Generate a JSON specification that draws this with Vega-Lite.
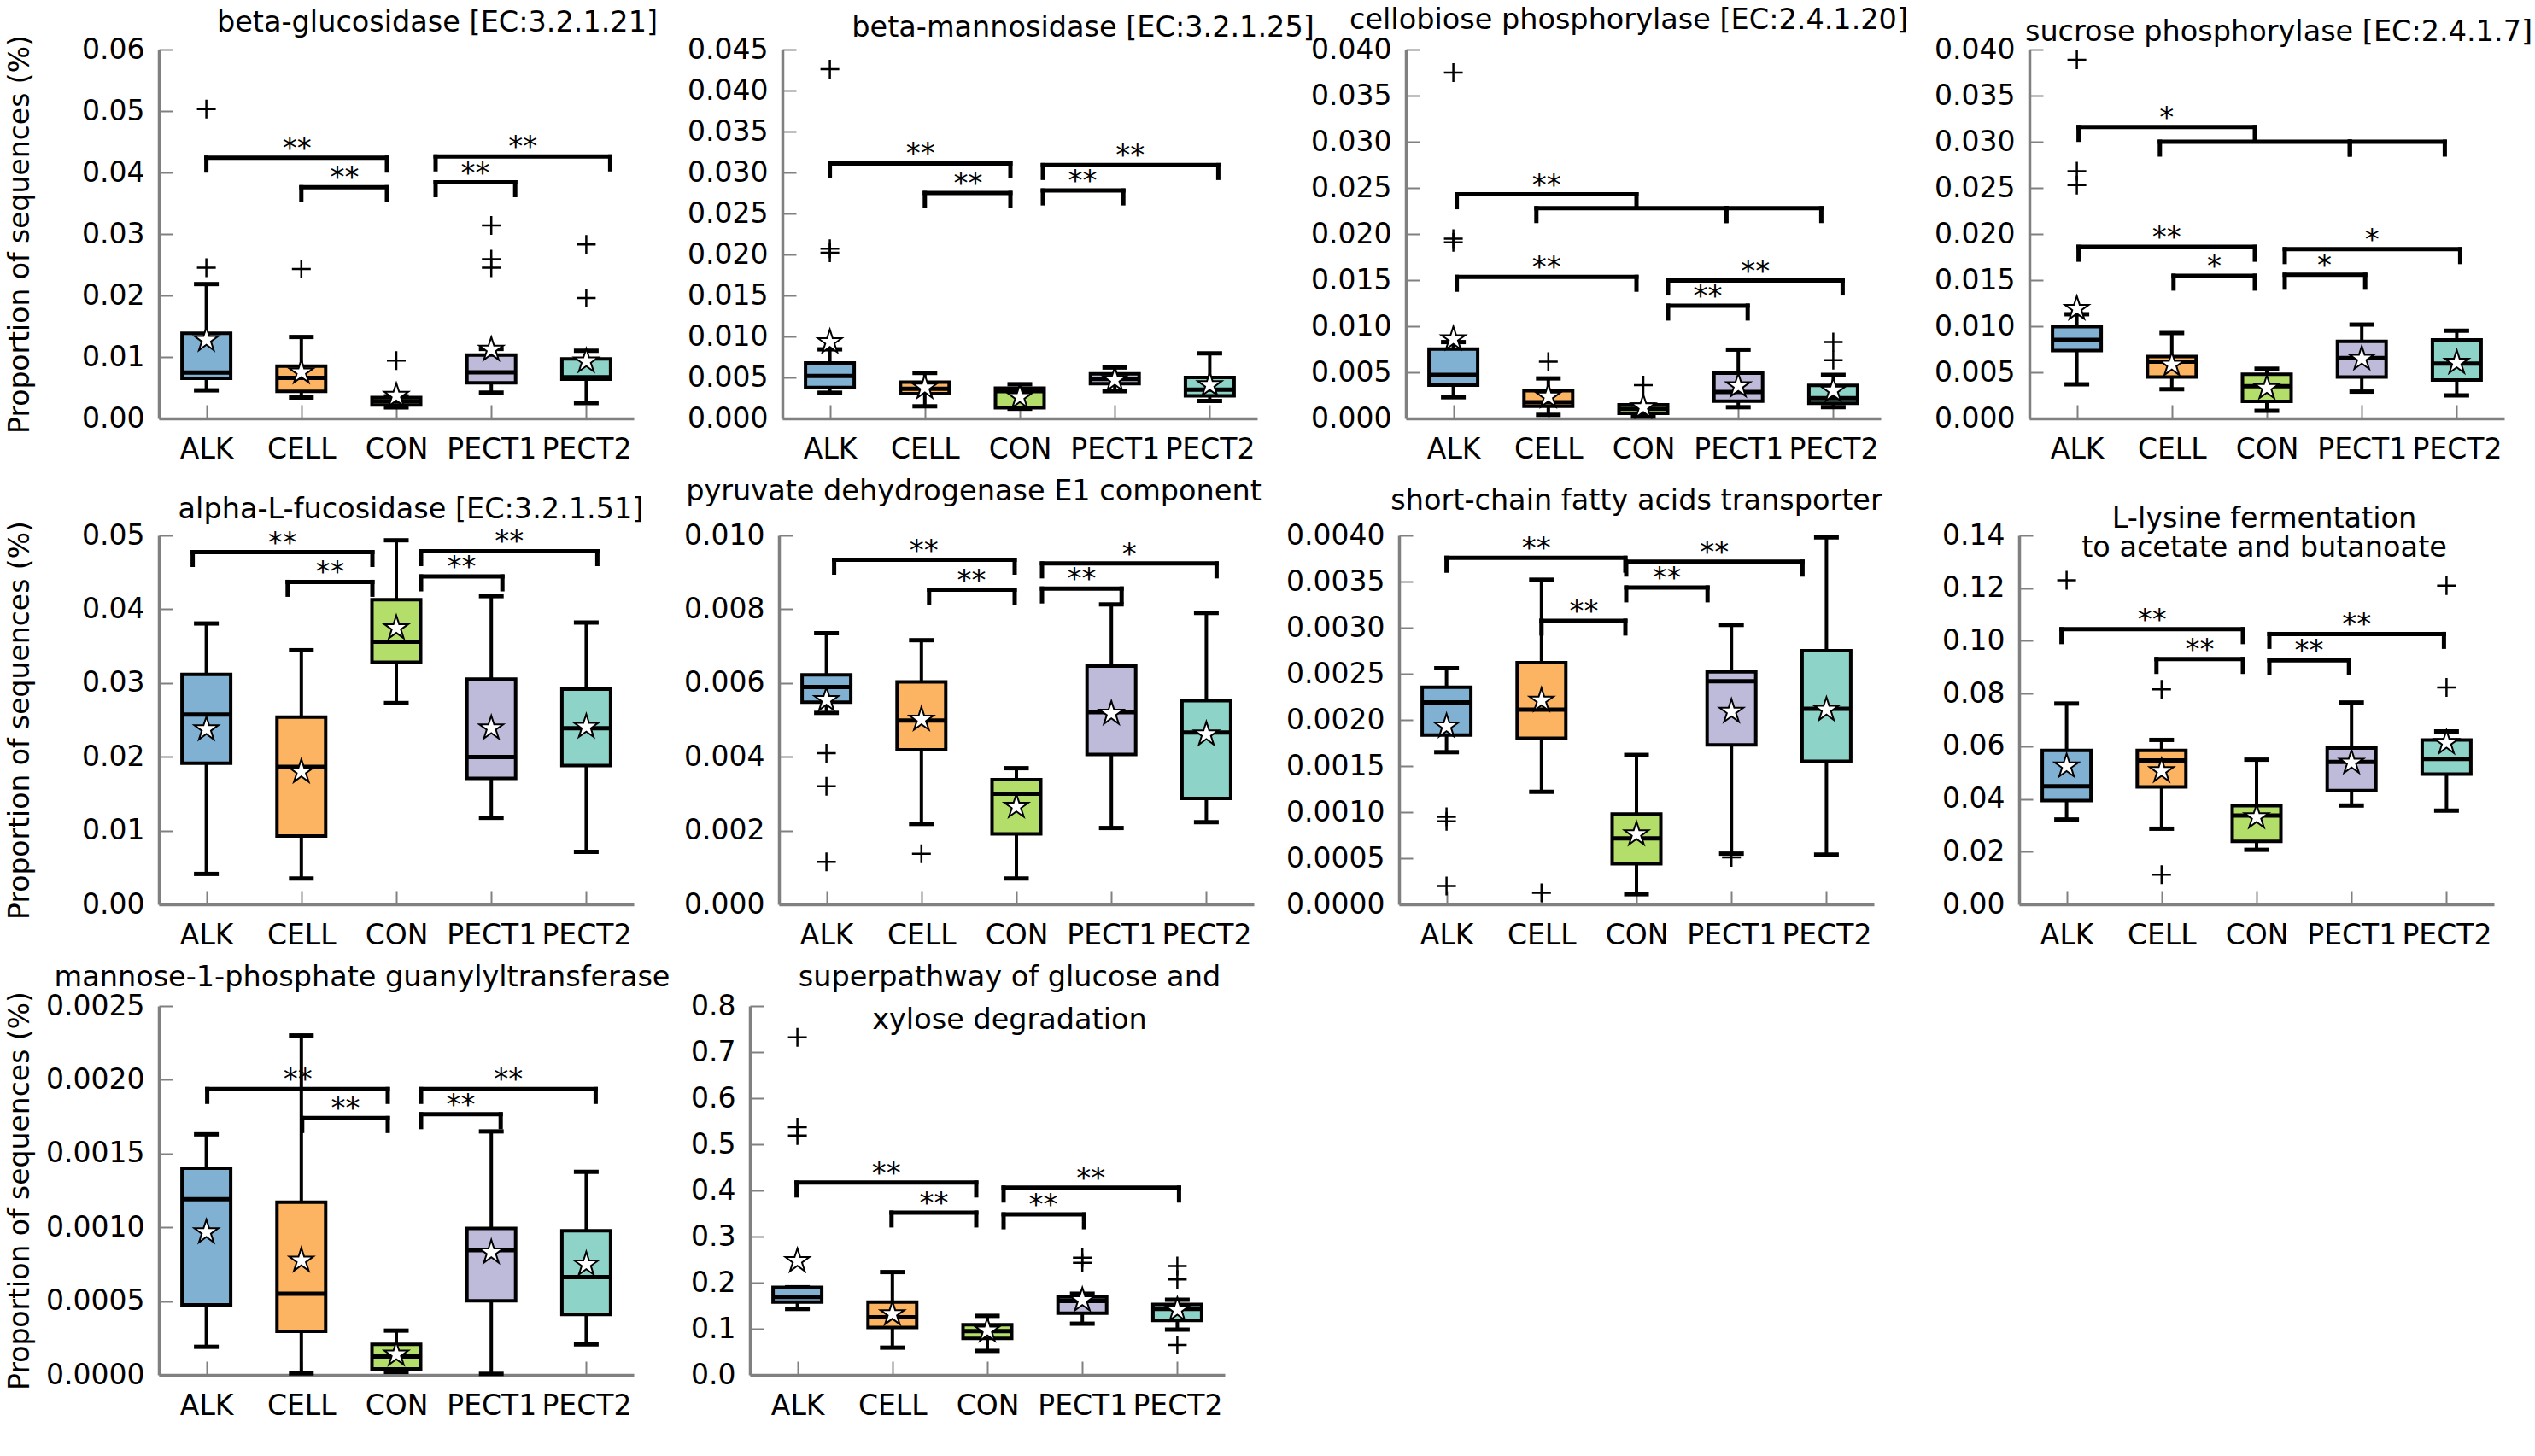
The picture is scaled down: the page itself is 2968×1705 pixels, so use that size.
{
"$schema":"https://vega.github.io/schema/vega-lite/v6.json",
"padding":{"left":6,"top":6,"right":5,"bottom":5},
"spacing":15,
"bounds":"full",
"data":{"values":[
{"p":1,"k":"b","g":"ALK","lo":0.00457,"q1":0.00653,"md":0.00746,"q3":0.01384,"hi":0.02185,"mn":0.01276},
{"p":1,"k":"b","g":"CELL","lo":0.0034,"q1":0.0044,"md":0.0066,"q3":0.0085,"hi":0.01325,"mn":0.0075},
{"p":1,"k":"b","g":"CON","lo":0.0018,"q1":0.0022,"md":0.0028,"q3":0.0034,"hi":0.0036,"mn":0.0037},
{"p":1,"k":"b","g":"PECT1","lo":0.0042,"q1":0.0058,"md":0.0075,"q3":0.0103,"hi":0.0113,"mn":0.0112},
{"p":1,"k":"b","g":"PECT2","lo":0.0025,"q1":0.0064,"md":0.0067,"q3":0.0097,"hi":0.011,"mn":0.0093},
{"p":1,"k":"o","g":"ALK","v":0.0503},{"p":1,"k":"o","g":"ALK","v":0.0245},{"p":1,"k":"o","g":"CELL","v":0.0243},{"p":1,"k":"o","g":"CON","v":0.0094},{"p":1,"k":"o","g":"PECT1","v":0.0314},{"p":1,"k":"o","g":"PECT1","v":0.0259},{"p":1,"k":"o","g":"PECT1","v":0.0245},{"p":1,"k":"o","g":"PECT2","v":0.0283},{"p":1,"k":"o","g":"PECT2","v":0.0196},
{"p":1,"k":"r","g":"ALK","g2":"CON","y":0.0424,"s":"**","m":"CELL"},
{"p":1,"k":"r","g":"CELL","g2":"CON","y":0.0376,"s":"**","m":"CELL-CON"},
{"p":1,"k":"r","g":"CON","g2":"PECT1","y":0.0384,"s":"**","m":"CON-PECT1"},
{"p":1,"k":"r","g":"CON","g2":"PECT2","y":0.0426,"s":"**","m":"PECT1"},
{"p":2,"k":"b","g":"ALK","lo":0.00314,"q1":0.00377,"md":0.00518,"q3":0.00677,"hi":0.00843,"mn":0.00932},
{"p":2,"k":"b","g":"CELL","lo":0.00148,"q1":0.00303,"md":0.00362,"q3":0.00444,"hi":0.00555,"mn":0.00377},
{"p":2,"k":"b","g":"CON","lo":0.00118,"q1":0.0013,"md":0.00333,"q3":0.0037,"hi":0.00418,"mn":0.00259},
{"p":2,"k":"b","g":"PECT1","lo":0.00333,"q1":0.00425,"md":0.00481,"q3":0.00544,"hi":0.00621,"mn":0.0047},
{"p":2,"k":"b","g":"PECT2","lo":0.00214,"q1":0.00277,"md":0.00351,"q3":0.005,"hi":0.00795,"mn":0.00407},
{"p":2,"k":"o","g":"ALK","v":0.0426},{"p":2,"k":"o","g":"ALK","v":0.0207},{"p":2,"k":"o","g":"ALK","v":0.0202},
{"p":2,"k":"r","g":"ALK","g2":"CON","y":0.0311,"s":"**","m":"CELL"},
{"p":2,"k":"r","g":"CELL","g2":"CON","y":0.0275,"s":"**","m":"CELL-CON"},
{"p":2,"k":"r","g":"CON","g2":"PECT1","y":0.0278,"s":"**","m":"CON-PECT1"},
{"p":2,"k":"r","g":"CON","g2":"PECT2","y":0.0309,"s":"**","m":"PECT1"},
{"p":3,"k":"b","g":"ALK","lo":0.0023,"q1":0.00362,"md":0.00473,"q3":0.00753,"hi":0.00828,"mn":0.00861},
{"p":3,"k":"b","g":"CELL","lo":0.00039,"q1":0.00131,"md":0.00177,"q3":0.00302,"hi":0.00434,"mn":0.00237},
{"p":3,"k":"b","g":"CON","lo":0.0002,"q1":0.00056,"md":0.00105,"q3":0.00148,"hi":0.0015,"mn":0.00122},
{"p":3,"k":"b","g":"PECT1","lo":0.00122,"q1":0.00187,"md":0.00286,"q3":0.0049,"hi":0.00746,"mn":0.00352},
{"p":3,"k":"b","g":"PECT2","lo":0.00122,"q1":0.00164,"md":0.0022,"q3":0.00358,"hi":0.00473,"mn":0.00302},
{"p":3,"k":"o","g":"ALK","v":0.0375},{"p":3,"k":"o","g":"ALK","v":0.0195},{"p":3,"k":"o","g":"ALK","v":0.0191},{"p":3,"k":"o","g":"CELL","v":0.00615},{"p":3,"k":"o","g":"CON","v":0.00362},{"p":3,"k":"o","g":"PECT2","v":0.00828},{"p":3,"k":"o","g":"PECT2","v":0.00631},
{"p":3,"k":"r","g":"ALK","g2":"CON","y":0.0243,"s":"**","m":"CELL"},
{"p":3,"k":"r","g":"CELL","g2":"PECT1","y":0.0228,"s":""},
{"p":3,"k":"r","g":"PECT1","g2":"PECT2","y":0.0228,"s":""},
{"p":3,"k":"r","g":"ALK","g2":"CON","y":0.01535,"s":"**","m":"CELL"},
{"p":3,"k":"r","g":"CON","g2":"PECT1","y":0.01223,"s":"**","m":"CON-PECT1"},
{"p":3,"k":"r","g":"CON","g2":"PECT2","y":0.01495,"s":"**","m":"PECT1"},
{"p":4,"k":"b","g":"ALK","lo":0.0037,"q1":0.00737,"md":0.00853,"q3":0.00995,"hi":0.0113,"mn":0.0119},
{"p":4,"k":"b","g":"CELL","lo":0.00317,"q1":0.0045,"md":0.00615,"q3":0.00671,"hi":0.00926,"mn":0.00582},
{"p":4,"k":"b","g":"CON","lo":0.00083,"q1":0.00185,"md":0.0035,"q3":0.00479,"hi":0.00539,"mn":0.00331},
{"p":4,"k":"b","g":"PECT1","lo":0.00291,"q1":0.0045,"md":0.00655,"q3":0.00836,"hi":0.01018,"mn":0.00648},
{"p":4,"k":"b","g":"PECT2","lo":0.00251,"q1":0.00417,"md":0.00595,"q3":0.00853,"hi":0.00952,"mn":0.00605},
{"p":4,"k":"o","g":"ALK","v":0.0389},{"p":4,"k":"o","g":"ALK","v":0.0268},{"p":4,"k":"o","g":"ALK","v":0.0253},
{"p":4,"k":"r","g":"ALK","g2":"CON","y":0.0316,"s":"*","m":"CELL"},
{"p":4,"k":"r","g":"CELL","g2":"PECT1","y":0.03,"s":""},
{"p":4,"k":"r","g":"PECT1","g2":"PECT2","y":0.03,"s":""},
{"p":4,"k":"r","g":"ALK","g2":"CON","y":0.0186,"s":"**","m":"CELL"},
{"p":4,"k":"r","g":"CELL","g2":"CON","y":0.01547,"s":"*","m":"CELL-CON"},
{"p":4,"k":"r","g":"CON","g2":"PECT1","y":0.01557,"s":"*","m":"CON-PECT1"},
{"p":4,"k":"r","g":"CON","g2":"PECT2","y":0.01835,"s":"*","m":"PECT1"},
{"p":5,"k":"b","g":"ALK","lo":0.00412,"q1":0.01914,"md":0.02572,"q3":0.03115,"hi":0.03807,"mn":0.02374},
{"p":5,"k":"b","g":"CELL","lo":0.0035,"q1":0.00926,"md":0.01864,"q3":0.02539,"hi":0.03444,"mn":0.01798},
{"p":5,"k":"b","g":"CON","lo":0.02728,"q1":0.0328,"md":0.0356,"q3":0.04128,"hi":0.04934,"mn":0.03745},
{"p":5,"k":"b","g":"PECT1","lo":0.01173,"q1":0.01708,"md":0.01996,"q3":0.03053,"hi":0.04177,"mn":0.02387},
{"p":5,"k":"b","g":"PECT2","lo":0.00712,"q1":0.01881,"md":0.02387,"q3":0.02918,"hi":0.03819,"mn":0.02407},
{"p":5,"k":"r","g":"ALK","g2":"CON","y":0.04774,"s":"**","m":"CELL"},
{"p":5,"k":"r","g":"CELL","g2":"CON","y":0.0437,"s":"**","m":"CELL-CON"},
{"p":5,"k":"r","g":"CON","g2":"PECT1","y":0.04444,"s":"**","m":"CON-PECT1"},
{"p":5,"k":"r","g":"CON","g2":"PECT2","y":0.04786,"s":"**","m":"PECT1"},
{"p":6,"k":"b","g":"ALK","lo":0.00519,"q1":0.00548,"md":0.00589,"q3":0.00622,"hi":0.00735,"mn":0.00554},
{"p":6,"k":"b","g":"CELL","lo":0.00218,"q1":0.00419,"md":0.00498,"q3":0.00603,"hi":0.00716,"mn":0.00501},
{"p":6,"k":"b","g":"CON","lo":0.0007,"q1":0.00191,"md":0.003,"q3":0.00338,"hi":0.00369,"mn":0.00265},
{"p":6,"k":"b","g":"PECT1","lo":0.00207,"q1":0.00406,"md":0.00521,"q3":0.00646,"hi":0.00813,"mn":0.00517},
{"p":6,"k":"b","g":"PECT2","lo":0.00223,"q1":0.00287,"md":0.00466,"q3":0.00552,"hi":0.0079,"mn":0.00461},
{"p":6,"k":"o","g":"ALK","v":0.0041},{"p":6,"k":"o","g":"ALK","v":0.0032},{"p":6,"k":"o","g":"ALK","v":0.00115},{"p":6,"k":"o","g":"CELL","v":0.00137},
{"p":6,"k":"r","g":"ALK","g2":"CON","y":0.00934,"s":"**","m":"CELL"},
{"p":6,"k":"r","g":"CELL","g2":"CON","y":0.00853,"s":"**","m":"CELL-CON"},
{"p":6,"k":"r","g":"CON","g2":"PECT1","y":0.00856,"s":"**","m":"CON-PECT1"},
{"p":6,"k":"r","g":"CON","g2":"PECT2","y":0.00924,"s":"*","m":"PECT1"},
{"p":7,"k":"b","g":"ALK","lo":0.00165,"q1":0.001836,"md":0.00219,"q3":0.002354,"hi":0.00256,"mn":0.00193},
{"p":7,"k":"b","g":"CELL","lo":0.00122,"q1":0.0018,"md":0.00211,"q3":0.00262,"hi":0.00352,"mn":0.00221},
{"p":7,"k":"b","g":"CON","lo":0.00011,"q1":0.00044,"md":0.000715,"q3":0.00098,"hi":0.00162,"mn":0.00076},
{"p":7,"k":"b","g":"PECT1","lo":0.00055,"q1":0.00173,"md":0.00242,"q3":0.00252,"hi":0.00303,"mn":0.00209},
{"p":7,"k":"b","g":"PECT2","lo":0.00054,"q1":0.00155,"md":0.00212,"q3":0.00275,"hi":0.00398,"mn":0.00211},
{"p":7,"k":"o","g":"ALK","v":0.00095},{"p":7,"k":"o","g":"ALK","v":0.0009},{"p":7,"k":"o","g":"ALK","v":0.0002},{"p":7,"k":"o","g":"CELL","v":0.000125},{"p":7,"k":"o","g":"PECT1","v":0.00051},
{"p":7,"k":"r","g":"ALK","g2":"CON","y":0.003757,"s":"**","m":"CELL"},
{"p":7,"k":"r","g":"CELL","g2":"CON","y":0.003075,"s":"**","m":"CELL-CON"},
{"p":7,"k":"r","g":"CON","g2":"PECT1","y":0.003436,"s":"**","m":"CON-PECT1"},
{"p":7,"k":"r","g":"CON","g2":"PECT2","y":0.003715,"s":"**","m":"PECT1"},
{"p":8,"k":"b","g":"ALK","lo":0.0322,"q1":0.0394,"md":0.0448,"q3":0.0584,"hi":0.0762,"mn":0.0524},
{"p":8,"k":"b","g":"CELL","lo":0.0287,"q1":0.0446,"md":0.0546,"q3":0.0584,"hi":0.0624,"mn":0.0506},
{"p":8,"k":"b","g":"CON","lo":0.0207,"q1":0.0239,"md":0.0337,"q3":0.0374,"hi":0.0549,"mn":0.0331},
{"p":8,"k":"b","g":"PECT1","lo":0.0375,"q1":0.0432,"md":0.054,"q3":0.0593,"hi":0.0766,"mn":0.0538},
{"p":8,"k":"b","g":"PECT2","lo":0.0356,"q1":0.0494,"md":0.0552,"q3":0.0624,"hi":0.0656,"mn":0.0613},
{"p":8,"k":"o","g":"ALK","v":0.123},{"p":8,"k":"o","g":"CELL","v":0.0816},{"p":8,"k":"o","g":"CELL","v":0.0113},{"p":8,"k":"o","g":"PECT2","v":0.121},{"p":8,"k":"o","g":"PECT2","v":0.0823},
{"p":8,"k":"r","g":"ALK","g2":"CON","y":0.1044,"s":"**","m":"CELL"},
{"p":8,"k":"r","g":"CELL","g2":"CON","y":0.0931,"s":"**","m":"CELL-CON"},
{"p":8,"k":"r","g":"CON","g2":"PECT1","y":0.0926,"s":"**","m":"CON-PECT1"},
{"p":8,"k":"r","g":"CON","g2":"PECT2","y":0.1026,"s":"**","m":"PECT1"},
{"p":9,"k":"b","g":"ALK","lo":0.00019,"q1":0.000474,"md":0.00119,"q3":0.0014,"hi":0.00163,"mn":0.000967},
{"p":9,"k":"b","g":"CELL","lo":0.00001,"q1":0.000295,"md":0.00055,"q3":0.00117,"hi":0.0023,"mn":0.000775},
{"p":9,"k":"b","g":"CON","lo":0.00002,"q1":0.00004,"md":0.000124,"q3":0.000207,"hi":0.0003,"mn":0.000138},
{"p":9,"k":"b","g":"PECT1","lo":0.000007,"q1":0.000502,"md":0.000845,"q3":0.000993,"hi":0.00165,"mn":0.00083},
{"p":9,"k":"b","g":"PECT2","lo":0.000207,"q1":0.00041,"md":0.000662,"q3":0.000976,"hi":0.001376,"mn":0.000749},
{"p":9,"k":"r","g":"ALK","g2":"CON","y":0.001937,"s":"**","m":"CELL"},
{"p":9,"k":"r","g":"CELL","g2":"CON","y":0.00174,"s":"**","m":"CELL-CON"},
{"p":9,"k":"r","g":"CON","g2":"PECT1","y":0.001766,"s":"**","m":"CON-PECT1"},
{"p":9,"k":"r","g":"CON","g2":"PECT2","y":0.001937,"s":"**","m":"PECT1"},
{"p":10,"k":"b","g":"ALK","lo":0.143,"q1":0.158,"md":0.169,"q3":0.19,"hi":0.19,"mn":0.247},
{"p":10,"k":"b","g":"CELL","lo":0.059,"q1":0.103,"md":0.125,"q3":0.158,"hi":0.223,"mn":0.132},
{"p":10,"k":"b","g":"CON","lo":0.052,"q1":0.079,"md":0.095,"q3":0.109,"hi":0.128,"mn":0.096},
{"p":10,"k":"b","g":"PECT1","lo":0.111,"q1":0.134,"md":0.16,"q3":0.169,"hi":0.176,"mn":0.162},
{"p":10,"k":"b","g":"PECT2","lo":0.098,"q1":0.118,"md":0.143,"q3":0.153,"hi":0.163,"mn":0.141},
{"p":10,"k":"o","g":"ALK","v":0.732},{"p":10,"k":"o","g":"ALK","v":0.537},{"p":10,"k":"o","g":"ALK","v":0.519},{"p":10,"k":"o","g":"PECT1","v":0.254},{"p":10,"k":"o","g":"PECT1","v":0.243},{"p":10,"k":"o","g":"PECT2","v":0.236},{"p":10,"k":"o","g":"PECT2","v":0.207},{"p":10,"k":"o","g":"PECT2","v":0.065},
{"p":10,"k":"r","g":"ALK","g2":"CON","y":0.417,"s":"**","m":"CELL"},
{"p":10,"k":"r","g":"CELL","g2":"CON","y":0.352,"s":"**","m":"CELL-CON"},
{"p":10,"k":"r","g":"CON","g2":"PECT1","y":0.348,"s":"**","m":"CON-PECT1"},
{"p":10,"k":"r","g":"CON","g2":"PECT2","y":0.406,"s":"**","m":"PECT1"}
]},
"vconcat":[
{"hconcat":[
{"width":556,"height":432,"title":{"text":"beta-glucosidase [EC:3.2.1.21]","dx":48},"transform":[{"filter":"datum.p==1"}],"encoding":{"x":{"field":"g","type":"nominal","scale":{"type":"point","padding":1,"domain":["ALK","ALK-CELL","CELL","CELL-CON","CON","CON-PECT1","PECT1","PECT1-PECT2","PECT2"]},"axis":{"values":["ALK","CELL","CON","PECT1","PECT2"],"title":null}}},"layer":[
{"transform":[{"filter":"datum.k=='b'"}],"layer":[
{"mark":"rule","encoding":{"y":{"field":"lo","type":"quantitative","scale":{"domain":[0,0.06],"nice":false},"axis":{"tickCount":6,"title":"Proportion of sequences (%)"}},"y2":{"field":"hi"}}},
{"mark":{"type":"bar","width":57},"encoding":{"y":{"field":"q1","type":"quantitative"},"y2":{"field":"q3"},"color":{"field":"g","type":"nominal","legend":null}}},
{"mark":{"type":"tick","size":57},"encoding":{"y":{"field":"md","type":"quantitative"}}},
{"mark":{"type":"tick","size":29},"encoding":{"y":{"field":"lo","type":"quantitative"}}},
{"mark":{"type":"tick","size":29},"encoding":{"y":{"field":"hi","type":"quantitative"}}},
{"mark":{"type":"point","shape":"M0,-1L0.2245,-0.309L0.951,-0.309L0.363,0.118L0.588,0.809L0,0.382L-0.588,0.809L-0.363,0.118L-0.951,-0.309L-0.2245,-0.309Z","size":870,"filled":true,"fill":"white","stroke":"black","strokeWidth":2},"encoding":{"y":{"field":"mn","type":"quantitative"}}}]},
{"transform":[{"filter":"datum.k=='o'"}],"mark":{"type":"point","shape":"M-1,0H1M0,-1V1","size":484,"filled":false,"color":"black","strokeWidth":2.5},"encoding":{"y":{"field":"v","type":"quantitative"}}},
{"transform":[{"filter":"datum.k=='r'&&datum.g2=='CON'"}],"layer":[
{"mark":{"type":"rule","strokeWidth":5,"strokeCap":"square","xOffset":0,"x2Offset":-11},"encoding":{"y":{"field":"y","type":"quantitative"},"x2":{"field":"g2"}}},
{"mark":{"type":"rule","strokeWidth":5,"strokeCap":"square","xOffset":0,"y2Offset":15},"encoding":{"y":{"field":"y","type":"quantitative"},"y2":{"field":"y"}}},
{"mark":{"type":"rule","strokeWidth":5,"strokeCap":"square","xOffset":-11,"y2Offset":15},"encoding":{"x":{"field":"g2","type":"nominal"},"y":{"field":"y","type":"quantitative"},"y2":{"field":"y"}}},
{"mark":{"type":"text","xOffset":-5},"encoding":{"x":{"field":"m","type":"nominal"},"y":{"field":"y","type":"quantitative"},"text":{"field":"s"}}}]},
{"transform":[{"filter":"datum.k=='r'&&datum.g=='CON'"}],"layer":[
{"mark":{"type":"rule","strokeWidth":5,"strokeCap":"square","xOffset":46,"x2Offset":28},"encoding":{"y":{"field":"y","type":"quantitative"},"x2":{"field":"g2"}}},
{"mark":{"type":"rule","strokeWidth":5,"strokeCap":"square","xOffset":46,"y2Offset":15},"encoding":{"y":{"field":"y","type":"quantitative"},"y2":{"field":"y"}}},
{"mark":{"type":"rule","strokeWidth":5,"strokeCap":"square","xOffset":28,"y2Offset":15},"encoding":{"x":{"field":"g2","type":"nominal"},"y":{"field":"y","type":"quantitative"},"y2":{"field":"y"}}},
{"mark":{"type":"text","xOffset":37},"encoding":{"x":{"field":"m","type":"nominal"},"y":{"field":"y","type":"quantitative"},"text":{"field":"s"}}}]}
]},
{"width":556,"height":432,"title":{"text":"beta-mannosidase [EC:3.2.1.25]","dx":74,"offset":-8},"transform":[{"filter":"datum.p==2"}],"encoding":{"x":{"field":"g","type":"nominal","scale":{"type":"point","padding":1,"domain":["ALK","ALK-CELL","CELL","CELL-CON","CON","CON-PECT1","PECT1","PECT1-PECT2","PECT2"]},"axis":{"values":["ALK","CELL","CON","PECT1","PECT2"],"title":null}}},"layer":[
{"transform":[{"filter":"datum.k=='b'"}],"layer":[
{"mark":"rule","encoding":{"y":{"field":"lo","type":"quantitative","scale":{"domain":[0,0.045],"nice":false},"axis":{"tickCount":9,"title":null}},"y2":{"field":"hi"}}},
{"mark":{"type":"bar","width":57},"encoding":{"y":{"field":"q1","type":"quantitative"},"y2":{"field":"q3"},"color":{"field":"g","type":"nominal","legend":null}}},
{"mark":{"type":"tick","size":57},"encoding":{"y":{"field":"md","type":"quantitative"}}},
{"mark":{"type":"tick","size":29},"encoding":{"y":{"field":"lo","type":"quantitative"}}},
{"mark":{"type":"tick","size":29},"encoding":{"y":{"field":"hi","type":"quantitative"}}},
{"mark":{"type":"point","shape":"M0,-1L0.2245,-0.309L0.951,-0.309L0.363,0.118L0.588,0.809L0,0.382L-0.588,0.809L-0.363,0.118L-0.951,-0.309L-0.2245,-0.309Z","size":870,"filled":true,"fill":"white","stroke":"black","strokeWidth":2},"encoding":{"y":{"field":"mn","type":"quantitative"}}}]},
{"transform":[{"filter":"datum.k=='o'"}],"mark":{"type":"point","shape":"M-1,0H1M0,-1V1","size":484,"filled":false,"color":"black","strokeWidth":2.5},"encoding":{"y":{"field":"v","type":"quantitative"}}},
{"transform":[{"filter":"datum.k=='r'&&datum.g2=='CON'"}],"layer":[
{"mark":{"type":"rule","strokeWidth":5,"strokeCap":"square","xOffset":0,"x2Offset":-11},"encoding":{"y":{"field":"y","type":"quantitative"},"x2":{"field":"g2"}}},
{"mark":{"type":"rule","strokeWidth":5,"strokeCap":"square","xOffset":0,"y2Offset":15},"encoding":{"y":{"field":"y","type":"quantitative"},"y2":{"field":"y"}}},
{"mark":{"type":"rule","strokeWidth":5,"strokeCap":"square","xOffset":-11,"y2Offset":15},"encoding":{"x":{"field":"g2","type":"nominal"},"y":{"field":"y","type":"quantitative"},"y2":{"field":"y"}}},
{"mark":{"type":"text","xOffset":-5},"encoding":{"x":{"field":"m","type":"nominal"},"y":{"field":"y","type":"quantitative"},"text":{"field":"s"}}}]},
{"transform":[{"filter":"datum.k=='r'&&datum.g=='CON'"}],"layer":[
{"mark":{"type":"rule","strokeWidth":5,"strokeCap":"square","xOffset":27,"x2Offset":10},"encoding":{"y":{"field":"y","type":"quantitative"},"x2":{"field":"g2"}}},
{"mark":{"type":"rule","strokeWidth":5,"strokeCap":"square","xOffset":27,"y2Offset":15},"encoding":{"y":{"field":"y","type":"quantitative"},"y2":{"field":"y"}}},
{"mark":{"type":"rule","strokeWidth":5,"strokeCap":"square","xOffset":10,"y2Offset":15},"encoding":{"x":{"field":"g2","type":"nominal"},"y":{"field":"y","type":"quantitative"},"y2":{"field":"y"}}},
{"mark":{"type":"text","xOffset":18},"encoding":{"x":{"field":"m","type":"nominal"},"y":{"field":"y","type":"quantitative"},"text":{"field":"s"}}}]}
]},
{"width":556,"height":432,"title":{"text":"cellobiose phosphorylase [EC:2.4.1.20]","dx":-17,"offset":1},"transform":[{"filter":"datum.p==3"}],"encoding":{"x":{"field":"g","type":"nominal","scale":{"type":"point","padding":1,"domain":["ALK","ALK-CELL","CELL","CELL-CON","CON","CON-PECT1","PECT1","PECT1-PECT2","PECT2"]},"axis":{"values":["ALK","CELL","CON","PECT1","PECT2"],"title":null}}},"layer":[
{"transform":[{"filter":"datum.k=='b'"}],"layer":[
{"mark":"rule","encoding":{"y":{"field":"lo","type":"quantitative","scale":{"domain":[0,0.04],"nice":false},"axis":{"tickCount":8,"title":null}},"y2":{"field":"hi"}}},
{"mark":{"type":"bar","width":57},"encoding":{"y":{"field":"q1","type":"quantitative"},"y2":{"field":"q3"},"color":{"field":"g","type":"nominal","legend":null}}},
{"mark":{"type":"tick","size":57},"encoding":{"y":{"field":"md","type":"quantitative"}}},
{"mark":{"type":"tick","size":29},"encoding":{"y":{"field":"lo","type":"quantitative"}}},
{"mark":{"type":"tick","size":29},"encoding":{"y":{"field":"hi","type":"quantitative"}}},
{"mark":{"type":"point","shape":"M0,-1L0.2245,-0.309L0.951,-0.309L0.363,0.118L0.588,0.809L0,0.382L-0.588,0.809L-0.363,0.118L-0.951,-0.309L-0.2245,-0.309Z","size":870,"filled":true,"fill":"white","stroke":"black","strokeWidth":2},"encoding":{"y":{"field":"mn","type":"quantitative"}}}]},
{"transform":[{"filter":"datum.k=='o'"}],"mark":{"type":"point","shape":"M-1,0H1M0,-1V1","size":484,"filled":false,"color":"black","strokeWidth":2.5},"encoding":{"y":{"field":"v","type":"quantitative"}}},
{"transform":[{"filter":"datum.k=='r'&&datum.g2=='CON'"}],"layer":[
{"mark":{"type":"rule","strokeWidth":5,"strokeCap":"square","xOffset":4,"x2Offset":-8},"encoding":{"y":{"field":"y","type":"quantitative"},"x2":{"field":"g2"}}},
{"mark":{"type":"rule","strokeWidth":5,"strokeCap":"square","xOffset":4,"y2Offset":15},"encoding":{"y":{"field":"y","type":"quantitative"},"y2":{"field":"y"}}},
{"mark":{"type":"rule","strokeWidth":5,"strokeCap":"square","xOffset":-8,"y2Offset":15},"encoding":{"x":{"field":"g2","type":"nominal"},"y":{"field":"y","type":"quantitative"},"y2":{"field":"y"}}},
{"mark":{"type":"text","xOffset":-2},"encoding":{"x":{"field":"m","type":"nominal"},"y":{"field":"y","type":"quantitative"},"text":{"field":"s"}}}]},
{"transform":[{"filter":"datum.k=='r'&&datum.g=='CON'"}],"layer":[
{"mark":{"type":"rule","strokeWidth":5,"strokeCap":"square","xOffset":29,"x2Offset":11},"encoding":{"y":{"field":"y","type":"quantitative"},"x2":{"field":"g2"}}},
{"mark":{"type":"rule","strokeWidth":5,"strokeCap":"square","xOffset":29,"y2Offset":15},"encoding":{"y":{"field":"y","type":"quantitative"},"y2":{"field":"y"}}},
{"mark":{"type":"rule","strokeWidth":5,"strokeCap":"square","xOffset":11,"y2Offset":15},"encoding":{"x":{"field":"g2","type":"nominal"},"y":{"field":"y","type":"quantitative"},"y2":{"field":"y"}}},
{"mark":{"type":"text","xOffset":20},"encoding":{"x":{"field":"m","type":"nominal"},"y":{"field":"y","type":"quantitative"},"text":{"field":"s"}}}]},
{"transform":[{"filter":"datum.k=='r'&&datum.g!='CON'&&datum.g2!='CON'"}],"layer":[
{"mark":{"type":"rule","strokeWidth":5,"strokeCap":"square","xOffset":-14,"x2Offset":-14},"encoding":{"y":{"field":"y","type":"quantitative"},"x2":{"field":"g2"}}},
{"mark":{"type":"rule","strokeWidth":5,"strokeCap":"square","xOffset":-14,"y2Offset":15},"encoding":{"y":{"field":"y","type":"quantitative"},"y2":{"field":"y"}}},
{"mark":{"type":"rule","strokeWidth":5,"strokeCap":"square","xOffset":-14,"y2Offset":15},"encoding":{"x":{"field":"g2","type":"nominal"},"y":{"field":"y","type":"quantitative"},"y2":{"field":"y"}}}]}
]},
{"width":556,"height":432,"title":{"text":"sucrose phosphorylase [EC:2.4.1.7]","dx":14,"offset":-13},"transform":[{"filter":"datum.p==4"}],"encoding":{"x":{"field":"g","type":"nominal","scale":{"type":"point","padding":1,"domain":["ALK","ALK-CELL","CELL","CELL-CON","CON","CON-PECT1","PECT1","PECT1-PECT2","PECT2"]},"axis":{"values":["ALK","CELL","CON","PECT1","PECT2"],"title":null}}},"layer":[
{"transform":[{"filter":"datum.k=='b'"}],"layer":[
{"mark":"rule","encoding":{"y":{"field":"lo","type":"quantitative","scale":{"domain":[0,0.04],"nice":false},"axis":{"tickCount":8,"title":null}},"y2":{"field":"hi"}}},
{"mark":{"type":"bar","width":57},"encoding":{"y":{"field":"q1","type":"quantitative"},"y2":{"field":"q3"},"color":{"field":"g","type":"nominal","legend":null}}},
{"mark":{"type":"tick","size":57},"encoding":{"y":{"field":"md","type":"quantitative"}}},
{"mark":{"type":"tick","size":29},"encoding":{"y":{"field":"lo","type":"quantitative"}}},
{"mark":{"type":"tick","size":29},"encoding":{"y":{"field":"hi","type":"quantitative"}}},
{"mark":{"type":"point","shape":"M0,-1L0.2245,-0.309L0.951,-0.309L0.363,0.118L0.588,0.809L0,0.382L-0.588,0.809L-0.363,0.118L-0.951,-0.309L-0.2245,-0.309Z","size":870,"filled":true,"fill":"white","stroke":"black","strokeWidth":2},"encoding":{"y":{"field":"mn","type":"quantitative"}}}]},
{"transform":[{"filter":"datum.k=='o'"}],"mark":{"type":"point","shape":"M-1,0H1M0,-1V1","size":484,"filled":false,"color":"black","strokeWidth":2.5},"encoding":{"y":{"field":"v","type":"quantitative"}}},
{"transform":[{"filter":"datum.k=='r'&&datum.g2=='CON'"}],"layer":[
{"mark":{"type":"rule","strokeWidth":5,"strokeCap":"square","xOffset":2,"x2Offset":-14},"encoding":{"y":{"field":"y","type":"quantitative"},"x2":{"field":"g2"}}},
{"mark":{"type":"rule","strokeWidth":5,"strokeCap":"square","xOffset":2,"y2Offset":15},"encoding":{"y":{"field":"y","type":"quantitative"},"y2":{"field":"y"}}},
{"mark":{"type":"rule","strokeWidth":5,"strokeCap":"square","xOffset":-14,"y2Offset":15},"encoding":{"x":{"field":"g2","type":"nominal"},"y":{"field":"y","type":"quantitative"},"y2":{"field":"y"}}},
{"mark":{"type":"text","xOffset":-6},"encoding":{"x":{"field":"m","type":"nominal"},"y":{"field":"y","type":"quantitative"},"text":{"field":"s"}}}]},
{"transform":[{"filter":"datum.k=='r'&&datum.g=='CON'"}],"layer":[
{"mark":{"type":"rule","strokeWidth":5,"strokeCap":"square","xOffset":21,"x2Offset":4},"encoding":{"y":{"field":"y","type":"quantitative"},"x2":{"field":"g2"}}},
{"mark":{"type":"rule","strokeWidth":5,"strokeCap":"square","xOffset":21,"y2Offset":15},"encoding":{"y":{"field":"y","type":"quantitative"},"y2":{"field":"y"}}},
{"mark":{"type":"rule","strokeWidth":5,"strokeCap":"square","xOffset":4,"y2Offset":15},"encoding":{"x":{"field":"g2","type":"nominal"},"y":{"field":"y","type":"quantitative"},"y2":{"field":"y"}}},
{"mark":{"type":"text","xOffset":12},"encoding":{"x":{"field":"m","type":"nominal"},"y":{"field":"y","type":"quantitative"},"text":{"field":"s"}}}]},
{"transform":[{"filter":"datum.k=='r'&&datum.g!='CON'&&datum.g2!='CON'"}],"layer":[
{"mark":{"type":"rule","strokeWidth":5,"strokeCap":"square","xOffset":-14,"x2Offset":-14},"encoding":{"y":{"field":"y","type":"quantitative"},"x2":{"field":"g2"}}},
{"mark":{"type":"rule","strokeWidth":5,"strokeCap":"square","xOffset":-14,"y2Offset":15},"encoding":{"y":{"field":"y","type":"quantitative"},"y2":{"field":"y"}}},
{"mark":{"type":"rule","strokeWidth":5,"strokeCap":"square","xOffset":-14,"y2Offset":15},"encoding":{"x":{"field":"g2","type":"nominal"},"y":{"field":"y","type":"quantitative"},"y2":{"field":"y"}}}]}
]}
],"spacing":174,"bounds":"flush"},
{"hconcat":[
{"width":556,"height":432,"title":{"text":"alpha-L-fucosidase [EC:3.2.1.51]","dx":17,"offset":-5},"transform":[{"filter":"datum.p==5"}],"encoding":{"x":{"field":"g","type":"nominal","scale":{"type":"point","padding":1,"domain":["ALK","ALK-CELL","CELL","CELL-CON","CON","CON-PECT1","PECT1","PECT1-PECT2","PECT2"]},"axis":{"values":["ALK","CELL","CON","PECT1","PECT2"],"title":null}}},"layer":[
{"transform":[{"filter":"datum.k=='b'"}],"layer":[
{"mark":"rule","encoding":{"y":{"field":"lo","type":"quantitative","scale":{"domain":[0,0.05],"nice":false},"axis":{"tickCount":5,"title":"Proportion of sequences (%)"}},"y2":{"field":"hi"}}},
{"mark":{"type":"bar","width":57},"encoding":{"y":{"field":"q1","type":"quantitative"},"y2":{"field":"q3"},"color":{"field":"g","type":"nominal","legend":null}}},
{"mark":{"type":"tick","size":57},"encoding":{"y":{"field":"md","type":"quantitative"}}},
{"mark":{"type":"tick","size":29},"encoding":{"y":{"field":"lo","type":"quantitative"}}},
{"mark":{"type":"tick","size":29},"encoding":{"y":{"field":"hi","type":"quantitative"}}},
{"mark":{"type":"point","shape":"M0,-1L0.2245,-0.309L0.951,-0.309L0.363,0.118L0.588,0.809L0,0.382L-0.588,0.809L-0.363,0.118L-0.951,-0.309L-0.2245,-0.309Z","size":870,"filled":true,"fill":"white","stroke":"black","strokeWidth":2},"encoding":{"y":{"field":"mn","type":"quantitative"}}}]},
{"transform":[{"filter":"datum.k=='r'&&datum.g2=='CON'"}],"layer":[
{"mark":{"type":"rule","strokeWidth":5,"strokeCap":"square","xOffset":-16,"x2Offset":-28},"encoding":{"y":{"field":"y","type":"quantitative"},"x2":{"field":"g2"}}},
{"mark":{"type":"rule","strokeWidth":5,"strokeCap":"square","xOffset":-16,"y2Offset":15},"encoding":{"y":{"field":"y","type":"quantitative"},"y2":{"field":"y"}}},
{"mark":{"type":"rule","strokeWidth":5,"strokeCap":"square","xOffset":-28,"y2Offset":15},"encoding":{"x":{"field":"g2","type":"nominal"},"y":{"field":"y","type":"quantitative"},"y2":{"field":"y"}}},
{"mark":{"type":"text","xOffset":-22},"encoding":{"x":{"field":"m","type":"nominal"},"y":{"field":"y","type":"quantitative"},"text":{"field":"s"}}}]},
{"transform":[{"filter":"datum.k=='r'&&datum.g=='CON'"}],"layer":[
{"mark":{"type":"rule","strokeWidth":5,"strokeCap":"square","xOffset":29,"x2Offset":13},"encoding":{"y":{"field":"y","type":"quantitative"},"x2":{"field":"g2"}}},
{"mark":{"type":"rule","strokeWidth":5,"strokeCap":"square","xOffset":29,"y2Offset":15},"encoding":{"y":{"field":"y","type":"quantitative"},"y2":{"field":"y"}}},
{"mark":{"type":"rule","strokeWidth":5,"strokeCap":"square","xOffset":13,"y2Offset":15},"encoding":{"x":{"field":"g2","type":"nominal"},"y":{"field":"y","type":"quantitative"},"y2":{"field":"y"}}},
{"mark":{"type":"text","xOffset":21},"encoding":{"x":{"field":"m","type":"nominal"},"y":{"field":"y","type":"quantitative"},"text":{"field":"s"}}}]}
]},
{"width":556,"height":432,"title":{"text":"pyruvate dehydrogenase E1 component","dx":-50,"offset":18},"transform":[{"filter":"datum.p==6"}],"encoding":{"x":{"field":"g","type":"nominal","scale":{"type":"point","padding":1,"domain":["ALK","ALK-CELL","CELL","CELL-CON","CON","CON-PECT1","PECT1","PECT1-PECT2","PECT2"]},"axis":{"values":["ALK","CELL","CON","PECT1","PECT2"],"title":null}}},"layer":[
{"transform":[{"filter":"datum.k=='b'"}],"layer":[
{"mark":"rule","encoding":{"y":{"field":"lo","type":"quantitative","scale":{"domain":[0,0.01],"nice":false},"axis":{"tickCount":5,"title":null}},"y2":{"field":"hi"}}},
{"mark":{"type":"bar","width":57},"encoding":{"y":{"field":"q1","type":"quantitative"},"y2":{"field":"q3"},"color":{"field":"g","type":"nominal","legend":null}}},
{"mark":{"type":"tick","size":57},"encoding":{"y":{"field":"md","type":"quantitative"}}},
{"mark":{"type":"tick","size":29},"encoding":{"y":{"field":"lo","type":"quantitative"}}},
{"mark":{"type":"tick","size":29},"encoding":{"y":{"field":"hi","type":"quantitative"}}},
{"mark":{"type":"point","shape":"M0,-1L0.2245,-0.309L0.951,-0.309L0.363,0.118L0.588,0.809L0,0.382L-0.588,0.809L-0.363,0.118L-0.951,-0.309L-0.2245,-0.309Z","size":870,"filled":true,"fill":"white","stroke":"black","strokeWidth":2},"encoding":{"y":{"field":"mn","type":"quantitative"}}}]},
{"transform":[{"filter":"datum.k=='o'"}],"mark":{"type":"point","shape":"M-1,0H1M0,-1V1","size":484,"filled":false,"color":"black","strokeWidth":2.5},"encoding":{"y":{"field":"v","type":"quantitative"}}},
{"transform":[{"filter":"datum.k=='r'&&datum.g2=='CON'"}],"layer":[
{"mark":{"type":"rule","strokeWidth":5,"strokeCap":"square","xOffset":9,"x2Offset":-2},"encoding":{"y":{"field":"y","type":"quantitative"},"x2":{"field":"g2"}}},
{"mark":{"type":"rule","strokeWidth":5,"strokeCap":"square","xOffset":9,"y2Offset":15},"encoding":{"y":{"field":"y","type":"quantitative"},"y2":{"field":"y"}}},
{"mark":{"type":"rule","strokeWidth":5,"strokeCap":"square","xOffset":-2,"y2Offset":15},"encoding":{"x":{"field":"g2","type":"nominal"},"y":{"field":"y","type":"quantitative"},"y2":{"field":"y"}}},
{"mark":{"type":"text","xOffset":3},"encoding":{"x":{"field":"m","type":"nominal"},"y":{"field":"y","type":"quantitative"},"text":{"field":"s"}}}]},
{"transform":[{"filter":"datum.k=='r'&&datum.g=='CON'"}],"layer":[
{"mark":{"type":"rule","strokeWidth":5,"strokeCap":"square","xOffset":30,"x2Offset":12},"encoding":{"y":{"field":"y","type":"quantitative"},"x2":{"field":"g2"}}},
{"mark":{"type":"rule","strokeWidth":5,"strokeCap":"square","xOffset":30,"y2Offset":15},"encoding":{"y":{"field":"y","type":"quantitative"},"y2":{"field":"y"}}},
{"mark":{"type":"rule","strokeWidth":5,"strokeCap":"square","xOffset":12,"y2Offset":15},"encoding":{"x":{"field":"g2","type":"nominal"},"y":{"field":"y","type":"quantitative"},"y2":{"field":"y"}}},
{"mark":{"type":"text","xOffset":21},"encoding":{"x":{"field":"m","type":"nominal"},"y":{"field":"y","type":"quantitative"},"text":{"field":"s"}}}]}
]},
{"width":556,"height":432,"title":{"text":"short-chain fatty acids transporter","dx":0,"offset":7},"transform":[{"filter":"datum.p==7"}],"encoding":{"x":{"field":"g","type":"nominal","scale":{"type":"point","padding":1,"domain":["ALK","ALK-CELL","CELL","CELL-CON","CON","CON-PECT1","PECT1","PECT1-PECT2","PECT2"]},"axis":{"values":["ALK","CELL","CON","PECT1","PECT2"],"title":null}}},"layer":[
{"transform":[{"filter":"datum.k=='b'"}],"layer":[
{"mark":"rule","encoding":{"y":{"field":"lo","type":"quantitative","scale":{"domain":[0,0.004],"nice":false},"axis":{"tickCount":8,"title":null}},"y2":{"field":"hi"}}},
{"mark":{"type":"bar","width":57},"encoding":{"y":{"field":"q1","type":"quantitative"},"y2":{"field":"q3"},"color":{"field":"g","type":"nominal","legend":null}}},
{"mark":{"type":"tick","size":57},"encoding":{"y":{"field":"md","type":"quantitative"}}},
{"mark":{"type":"tick","size":29},"encoding":{"y":{"field":"lo","type":"quantitative"}}},
{"mark":{"type":"tick","size":29},"encoding":{"y":{"field":"hi","type":"quantitative"}}},
{"mark":{"type":"point","shape":"M0,-1L0.2245,-0.309L0.951,-0.309L0.363,0.118L0.588,0.809L0,0.382L-0.588,0.809L-0.363,0.118L-0.951,-0.309L-0.2245,-0.309Z","size":870,"filled":true,"fill":"white","stroke":"black","strokeWidth":2},"encoding":{"y":{"field":"mn","type":"quantitative"}}}]},
{"transform":[{"filter":"datum.k=='o'"}],"mark":{"type":"point","shape":"M-1,0H1M0,-1V1","size":484,"filled":false,"color":"black","strokeWidth":2.5},"encoding":{"y":{"field":"v","type":"quantitative"}}},
{"transform":[{"filter":"datum.k=='r'&&datum.g2=='CON'"}],"layer":[
{"mark":{"type":"rule","strokeWidth":5,"strokeCap":"square","xOffset":0,"x2Offset":-13},"encoding":{"y":{"field":"y","type":"quantitative"},"x2":{"field":"g2"}}},
{"mark":{"type":"rule","strokeWidth":5,"strokeCap":"square","xOffset":0,"y2Offset":15},"encoding":{"y":{"field":"y","type":"quantitative"},"y2":{"field":"y"}}},
{"mark":{"type":"rule","strokeWidth":5,"strokeCap":"square","xOffset":-13,"y2Offset":15},"encoding":{"x":{"field":"g2","type":"nominal"},"y":{"field":"y","type":"quantitative"},"y2":{"field":"y"}}},
{"mark":{"type":"text","xOffset":-6},"encoding":{"x":{"field":"m","type":"nominal"},"y":{"field":"y","type":"quantitative"},"text":{"field":"s"}}}]},
{"transform":[{"filter":"datum.k=='r'&&datum.g=='CON'"}],"layer":[
{"mark":{"type":"rule","strokeWidth":5,"strokeCap":"square","xOffset":-12,"x2Offset":-28},"encoding":{"y":{"field":"y","type":"quantitative"},"x2":{"field":"g2"}}},
{"mark":{"type":"rule","strokeWidth":5,"strokeCap":"square","xOffset":-12,"y2Offset":15},"encoding":{"y":{"field":"y","type":"quantitative"},"y2":{"field":"y"}}},
{"mark":{"type":"rule","strokeWidth":5,"strokeCap":"square","xOffset":-28,"y2Offset":15},"encoding":{"x":{"field":"g2","type":"nominal"},"y":{"field":"y","type":"quantitative"},"y2":{"field":"y"}}},
{"mark":{"type":"text","xOffset":-20},"encoding":{"x":{"field":"m","type":"nominal"},"y":{"field":"y","type":"quantitative"},"text":{"field":"s"}}}]}
]},
{"width":556,"height":432,"title":{"text":["L-lysine fermentation","to acetate and butanoate"],"dx":9,"dy":44,"lineHeight":34},"transform":[{"filter":"datum.p==8"}],"encoding":{"x":{"field":"g","type":"nominal","scale":{"type":"point","padding":1,"domain":["ALK","ALK-CELL","CELL","CELL-CON","CON","CON-PECT1","PECT1","PECT1-PECT2","PECT2"]},"axis":{"values":["ALK","CELL","CON","PECT1","PECT2"],"title":null}}},"layer":[
{"transform":[{"filter":"datum.k=='b'"}],"layer":[
{"mark":"rule","encoding":{"y":{"field":"lo","type":"quantitative","scale":{"domain":[0,0.14],"nice":false},"axis":{"tickCount":7,"title":null}},"y2":{"field":"hi"}}},
{"mark":{"type":"bar","width":57},"encoding":{"y":{"field":"q1","type":"quantitative"},"y2":{"field":"q3"},"color":{"field":"g","type":"nominal","legend":null}}},
{"mark":{"type":"tick","size":57},"encoding":{"y":{"field":"md","type":"quantitative"}}},
{"mark":{"type":"tick","size":29},"encoding":{"y":{"field":"lo","type":"quantitative"}}},
{"mark":{"type":"tick","size":29},"encoding":{"y":{"field":"hi","type":"quantitative"}}},
{"mark":{"type":"point","shape":"M0,-1L0.2245,-0.309L0.951,-0.309L0.363,0.118L0.588,0.809L0,0.382L-0.588,0.809L-0.363,0.118L-0.951,-0.309L-0.2245,-0.309Z","size":870,"filled":true,"fill":"white","stroke":"black","strokeWidth":2},"encoding":{"y":{"field":"mn","type":"quantitative"}}}]},
{"transform":[{"filter":"datum.k=='o'"}],"mark":{"type":"point","shape":"M-1,0H1M0,-1V1","size":484,"filled":false,"color":"black","strokeWidth":2.5},"encoding":{"y":{"field":"v","type":"quantitative"}}},
{"transform":[{"filter":"datum.k=='r'&&datum.g2=='CON'"}],"layer":[
{"mark":{"type":"rule","strokeWidth":5,"strokeCap":"square","xOffset":-6,"x2Offset":-16},"encoding":{"y":{"field":"y","type":"quantitative"},"x2":{"field":"g2"}}},
{"mark":{"type":"rule","strokeWidth":5,"strokeCap":"square","xOffset":-6,"y2Offset":15},"encoding":{"y":{"field":"y","type":"quantitative"},"y2":{"field":"y"}}},
{"mark":{"type":"rule","strokeWidth":5,"strokeCap":"square","xOffset":-16,"y2Offset":15},"encoding":{"x":{"field":"g2","type":"nominal"},"y":{"field":"y","type":"quantitative"},"y2":{"field":"y"}}},
{"mark":{"type":"text","xOffset":-11},"encoding":{"x":{"field":"m","type":"nominal"},"y":{"field":"y","type":"quantitative"},"text":{"field":"s"}}}]},
{"transform":[{"filter":"datum.k=='r'&&datum.g=='CON'"}],"layer":[
{"mark":{"type":"rule","strokeWidth":5,"strokeCap":"square","xOffset":15,"x2Offset":-3},"encoding":{"y":{"field":"y","type":"quantitative"},"x2":{"field":"g2"}}},
{"mark":{"type":"rule","strokeWidth":5,"strokeCap":"square","xOffset":15,"y2Offset":15},"encoding":{"y":{"field":"y","type":"quantitative"},"y2":{"field":"y"}}},
{"mark":{"type":"rule","strokeWidth":5,"strokeCap":"square","xOffset":-3,"y2Offset":15},"encoding":{"x":{"field":"g2","type":"nominal"},"y":{"field":"y","type":"quantitative"},"y2":{"field":"y"}}},
{"mark":{"type":"text","xOffset":6},"encoding":{"x":{"field":"m","type":"nominal"},"y":{"field":"y","type":"quantitative"},"text":{"field":"s"}}}]}
]}
],"spacing":170,"bounds":"flush"},
{"hconcat":[
{"width":556,"height":432,"title":{"text":"mannose-1-phosphate guanylyltransferase","dx":-40,"offset":-2},"transform":[{"filter":"datum.p==9"}],"encoding":{"x":{"field":"g","type":"nominal","scale":{"type":"point","padding":1,"domain":["ALK","ALK-CELL","CELL","CELL-CON","CON","CON-PECT1","PECT1","PECT1-PECT2","PECT2"]},"axis":{"values":["ALK","CELL","CON","PECT1","PECT2"],"title":null}}},"layer":[
{"transform":[{"filter":"datum.k=='b'"}],"layer":[
{"mark":"rule","encoding":{"y":{"field":"lo","type":"quantitative","scale":{"domain":[0,0.0025],"nice":false},"axis":{"tickCount":5,"title":"Proportion of sequences (%)"}},"y2":{"field":"hi"}}},
{"mark":{"type":"bar","width":57},"encoding":{"y":{"field":"q1","type":"quantitative"},"y2":{"field":"q3"},"color":{"field":"g","type":"nominal","legend":null}}},
{"mark":{"type":"tick","size":57},"encoding":{"y":{"field":"md","type":"quantitative"}}},
{"mark":{"type":"tick","size":29},"encoding":{"y":{"field":"lo","type":"quantitative"}}},
{"mark":{"type":"tick","size":29},"encoding":{"y":{"field":"hi","type":"quantitative"}}},
{"mark":{"type":"point","shape":"M0,-1L0.2245,-0.309L0.951,-0.309L0.363,0.118L0.588,0.809L0,0.382L-0.588,0.809L-0.363,0.118L-0.951,-0.309L-0.2245,-0.309Z","size":870,"filled":true,"fill":"white","stroke":"black","strokeWidth":2},"encoding":{"y":{"field":"mn","type":"quantitative"}}}]},
{"transform":[{"filter":"datum.k=='r'&&datum.g2=='CON'"}],"layer":[
{"mark":{"type":"rule","strokeWidth":5,"strokeCap":"square","xOffset":1,"x2Offset":-10},"encoding":{"y":{"field":"y","type":"quantitative"},"x2":{"field":"g2"}}},
{"mark":{"type":"rule","strokeWidth":5,"strokeCap":"square","xOffset":1,"y2Offset":15},"encoding":{"y":{"field":"y","type":"quantitative"},"y2":{"field":"y"}}},
{"mark":{"type":"rule","strokeWidth":5,"strokeCap":"square","xOffset":-10,"y2Offset":15},"encoding":{"x":{"field":"g2","type":"nominal"},"y":{"field":"y","type":"quantitative"},"y2":{"field":"y"}}},
{"mark":{"type":"text","xOffset":-4},"encoding":{"x":{"field":"m","type":"nominal"},"y":{"field":"y","type":"quantitative"},"text":{"field":"s"}}}]},
{"transform":[{"filter":"datum.k=='r'&&datum.g=='CON'"}],"layer":[
{"mark":{"type":"rule","strokeWidth":5,"strokeCap":"square","xOffset":29,"x2Offset":11},"encoding":{"y":{"field":"y","type":"quantitative"},"x2":{"field":"g2"}}},
{"mark":{"type":"rule","strokeWidth":5,"strokeCap":"square","xOffset":29,"y2Offset":15},"encoding":{"y":{"field":"y","type":"quantitative"},"y2":{"field":"y"}}},
{"mark":{"type":"rule","strokeWidth":5,"strokeCap":"square","xOffset":11,"y2Offset":15},"encoding":{"x":{"field":"g2","type":"nominal"},"y":{"field":"y","type":"quantitative"},"y2":{"field":"y"}}},
{"mark":{"type":"text","xOffset":20},"encoding":{"x":{"field":"m","type":"nominal"},"y":{"field":"y","type":"quantitative"},"text":{"field":"s"}}}]}
]},
{"width":556,"height":432,"title":{"text":["superpathway of glucose and","\u00a0\u00a0\u00a0\u00a0\u00a0\u00a0xylose degradation"],"dx":26,"dy":46,"lineHeight":50},"transform":[{"filter":"datum.p==10"}],"encoding":{"x":{"field":"g","type":"nominal","scale":{"type":"point","padding":1,"domain":["ALK","ALK-CELL","CELL","CELL-CON","CON","CON-PECT1","PECT1","PECT1-PECT2","PECT2"]},"axis":{"values":["ALK","CELL","CON","PECT1","PECT2"],"title":null}}},"layer":[
{"transform":[{"filter":"datum.k=='b'"}],"layer":[
{"mark":"rule","encoding":{"y":{"field":"lo","type":"quantitative","scale":{"domain":[0,0.8],"nice":false},"axis":{"tickCount":8,"title":null}},"y2":{"field":"hi"}}},
{"mark":{"type":"bar","width":57},"encoding":{"y":{"field":"q1","type":"quantitative"},"y2":{"field":"q3"},"color":{"field":"g","type":"nominal","legend":null}}},
{"mark":{"type":"tick","size":57},"encoding":{"y":{"field":"md","type":"quantitative"}}},
{"mark":{"type":"tick","size":29},"encoding":{"y":{"field":"lo","type":"quantitative"}}},
{"mark":{"type":"tick","size":29},"encoding":{"y":{"field":"hi","type":"quantitative"}}},
{"mark":{"type":"point","shape":"M0,-1L0.2245,-0.309L0.951,-0.309L0.363,0.118L0.588,0.809L0,0.382L-0.588,0.809L-0.363,0.118L-0.951,-0.309L-0.2245,-0.309Z","size":870,"filled":true,"fill":"white","stroke":"black","strokeWidth":2},"encoding":{"y":{"field":"mn","type":"quantitative"}}}]},
{"transform":[{"filter":"datum.k=='o'"}],"mark":{"type":"point","shape":"M-1,0H1M0,-1V1","size":484,"filled":false,"color":"black","strokeWidth":2.5},"encoding":{"y":{"field":"v","type":"quantitative"}}},
{"transform":[{"filter":"datum.k=='r'&&datum.g2=='CON'"}],"layer":[
{"mark":{"type":"rule","strokeWidth":5,"strokeCap":"square","xOffset":-1,"x2Offset":-13},"encoding":{"y":{"field":"y","type":"quantitative"},"x2":{"field":"g2"}}},
{"mark":{"type":"rule","strokeWidth":5,"strokeCap":"square","xOffset":-1,"y2Offset":15},"encoding":{"y":{"field":"y","type":"quantitative"},"y2":{"field":"y"}}},
{"mark":{"type":"rule","strokeWidth":5,"strokeCap":"square","xOffset":-13,"y2Offset":15},"encoding":{"x":{"field":"g2","type":"nominal"},"y":{"field":"y","type":"quantitative"},"y2":{"field":"y"}}},
{"mark":{"type":"text","xOffset":-7},"encoding":{"x":{"field":"m","type":"nominal"},"y":{"field":"y","type":"quantitative"},"text":{"field":"s"}}}]},
{"transform":[{"filter":"datum.k=='r'&&datum.g=='CON'"}],"layer":[
{"mark":{"type":"rule","strokeWidth":5,"strokeCap":"square","xOffset":19,"x2Offset":2},"encoding":{"y":{"field":"y","type":"quantitative"},"x2":{"field":"g2"}}},
{"mark":{"type":"rule","strokeWidth":5,"strokeCap":"square","xOffset":19,"y2Offset":15},"encoding":{"y":{"field":"y","type":"quantitative"},"y2":{"field":"y"}}},
{"mark":{"type":"rule","strokeWidth":5,"strokeCap":"square","xOffset":2,"y2Offset":15},"encoding":{"x":{"field":"g2","type":"nominal"},"y":{"field":"y","type":"quantitative"},"y2":{"field":"y"}}},
{"mark":{"type":"text","xOffset":10},"encoding":{"x":{"field":"m","type":"nominal"},"y":{"field":"y","type":"quantitative"},"text":{"field":"s"}}}]}
]}
],"spacing":136,"bounds":"flush"}
],
"config":{
"font":"DejaVu Sans",
"view":{"stroke":null},
"mark":{"opacity":1},
"axis":{"grid":false,"domainColor":"#808080","domainWidth":3.5,"tickColor":"#808080","tickWidth":2,"tickSize":-16,"labelFont":"DejaVu Sans","labelFontSize":33,"labelColor":"black","titleFont":"DejaVu Sans","titleFontSize":33,"titleFontWeight":"normal","titleColor":"black"},
"axisX":{"labelPadding":36,"labelAngle":0},
"axisY":{"labelPadding":33,"titleX":-146},
"title":{"font":"DejaVu Sans","fontSize":33.5,"fontWeight":"normal","frame":"group","baseline":"bottom","color":"black","offset":-4},
"range":{"category":["#80b1d3","#fdb462","#b3de69","#bebada","#8dd3c7"]},
"rule":{"color":"black","strokeWidth":4},
"tick":{"color":"black","thickness":5,"opacity":1},
"bar":{"stroke":"black","strokeWidth":4,"opacity":1},
"point":{"opacity":1},
"text":{"font":"DejaVu Sans","fontSize":34,"baseline":"alphabetic","color":"black"}
}
}
